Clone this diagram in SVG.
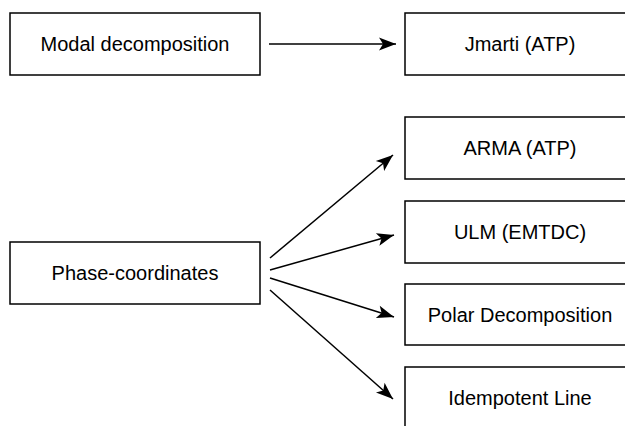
<svg xmlns="http://www.w3.org/2000/svg" width="625" height="426" viewBox="0 0 625 426">
<defs>
<style>
.box{fill:#fff;stroke:#000;stroke-width:1.5}
.lbl{font-family:"Liberation Sans",Arial,sans-serif;font-size:20px;fill:#000;text-anchor:middle}
.edge{stroke:#000;stroke-width:1.5;fill:none;marker-end:url(#ah)}
</style>
<marker id="ah" markerUnits="userSpaceOnUse" markerWidth="20" markerHeight="16" refX="18" refY="8" orient="auto">
<path d="M1,1.5 L18,8 L1,14.5 L5,8 Z" fill="#000"/>
</marker>
</defs>
<rect width="625" height="426" fill="#fff"/>
<g id="connectors">
<line class="edge" x1="269" y1="44" x2="396" y2="44"/>
<line class="edge" x1="270" y1="258" x2="393" y2="155"/>
<line class="edge" x1="270" y1="270" x2="394" y2="235"/>
<line class="edge" x1="270" y1="278" x2="394" y2="317"/>
<line class="edge" x1="270" y1="290" x2="393" y2="399"/>
</g>
<g id="modal"><rect class="box" x="10" y="13" width="250" height="62"/><text class="lbl" x="135" y="51">Modal decomposition</text></g>
<g id="jmarti"><rect class="box" x="405" y="13" width="230" height="62"/><text class="lbl" x="520" y="51">Jmarti (ATP)</text></g>
<g id="arma"><rect class="box" x="405" y="117" width="230" height="62"/><text class="lbl" x="520" y="155">ARMA (ATP)</text></g>
<g id="ulm"><rect class="box" x="405" y="201" width="230" height="62"/><text class="lbl" x="520" y="239">ULM (EMTDC)</text></g>
<g id="polar"><rect class="box" x="405" y="284" width="230" height="61"/><text class="lbl" x="520" y="322">Polar Decomposition</text></g>
<g id="idempotent"><rect class="box" x="405" y="367" width="230" height="70"/><text class="lbl" x="520" y="405">Idempotent Line</text></g>
<g id="phase"><rect class="box" x="10" y="242" width="250" height="62"/><text class="lbl" x="135" y="280">Phase-coordinates</text></g>
</svg>
